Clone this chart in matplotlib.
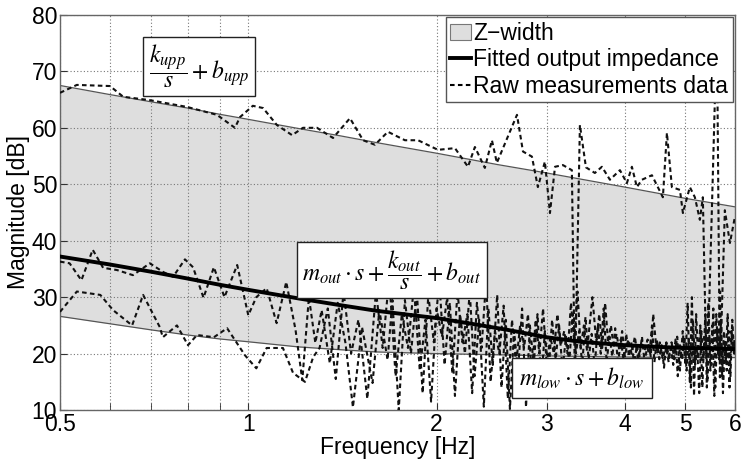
import matplotlib
matplotlib.use("Agg")
import matplotlib.pyplot as plt
from matplotlib.patches import Patch
from matplotlib.lines import Line2D

plt.rcParams['font.family'] = ['Liberation Sans', 'DejaVu Sans']
plt.rcParams['mathtext.fontset'] = 'stix'

# ---- data ----
xticks = [0.5, 1, 2, 3, 4, 5, 6]
xtick_labels = ['0.5', '1', '2', '3', '4', '5', '6']
minor_ticks = [0.6, 0.7, 0.8, 0.9]
yticks = [10, 20, 30, 40, 50, 60, 70, 80]

upper_f = [0.5, 0.6, 0.7, 0.8, 0.9, 1.0, 1.2, 1.4, 1.6, 2.0, 2.5, 3.0, 4.0, 5.0, 6.0]
upper_db = [67.5, 65.9, 64.6, 63.5, 62.4, 61.5, 59.9, 58.6, 57.4, 55.5, 53.5, 52.0, 49.5, 47.5, 46.0]

lower_f = [0.5, 0.6, 0.7, 0.8, 0.9, 1.0, 1.2, 1.4, 1.6, 2.0, 2.5, 3.0, 4.0, 5.0, 6.0]
lower_db = [26.6, 25.3, 24.2, 23.3, 22.6, 22.1, 21.2, 20.7, 20.3, 20.0, 19.8, 19.6, 19.4, 19.3, 19.3]

fit_f = [0.5, 0.6, 0.7, 0.8, 0.9, 1.0, 1.2, 1.4, 1.6, 1.8, 2.0, 2.3, 2.6, 3.0, 3.4, 4.0, 4.5, 5.0, 5.5, 6.0]
fit_db = [37.2, 35.8, 34.5, 33.3, 32.2, 31.3, 29.8, 28.6, 27.6, 26.9, 26.3, 25.2, 24.2, 22.9, 22.1, 21.5, 21.2, 21.0, 20.9, 20.8]

raw_a_f = [0.500, 0.532, 0.601, 0.631, 0.696, 0.798, 0.891, 0.952, 0.970, 1.017, 1.056, 1.111,
           1.175, 1.223, 1.288, 1.366, 1.454, 1.526, 1.594, 1.672, 1.780, 1.868, 2.010, 2.140,
           2.245, 2.303, 2.389, 2.452, 2.497, 2.689, 2.749, 2.841, 2.904, 2.980, 3.036, 3.093,
           3.184, 3.291, 3.328, 3.390, 3.466, 3.582, 3.676, 3.786, 3.928, 4.030, 4.105, 4.181,
           4.259, 4.419, 4.601, 4.670, 4.756, 4.899, 4.953, 5.081, 5.176, 5.272, 5.330, 5.409,
           5.510, 5.613, 5.675, 5.780, 5.889, 5.997]
raw_a_db = [66.2, 67.6, 67.4, 65.5, 64.9, 63.7, 62.3, 60.0, 61.9, 63.9, 63.5, 60.5,
            58.7, 60.0, 60.0, 58.2, 61.7, 57.8, 57.0, 59.3, 57.8, 57.8, 56.1, 56.4,
            53.1, 56.6, 52.9, 57.8, 53.8, 62.3, 55.8, 54.9, 49.5, 54.0, 44.9, 53.1,
            53.4, 52.5, 15.0, 60.5, 53.0, 52.0, 53.1, 50.8, 52.5, 50.2, 53.1, 49.5,
            50.8, 51.6, 47.7, 59.1, 49.5, 49.0, 44.9, 49.5, 47.7, 43.7, 47.7, 14.0,
            45.4, 78.0, 15.8, 45.4, 39.6, 44.2]

raw_b_f = [0.500, 0.518, 0.541, 0.564, 0.586, 0.617, 0.654, 0.696, 0.730, 0.758, 0.792, 0.816,
           0.848, 0.881, 0.916, 0.960, 1.000, 1.03, 1.07, 1.11, 1.15, 1.19,
           1.22, 1.25, 1.28, 1.31, 1.35, 1.39, 1.43, 1.47, 1.52, 1.58, 1.62, 1.67,
           1.70, 1.74, 1.78, 1.82, 1.86, 1.90, 1.94, 1.98, 2.02, 2.06, 2.10, 2.14,
           2.18, 2.22, 2.26, 2.30, 2.34, 2.38, 2.42, 2.46, 2.50, 2.54, 2.58, 2.62,
           2.66, 2.70, 2.74, 2.78, 2.82, 2.86, 2.90, 2.94, 2.98, 3.02, 3.06, 3.10,
           3.14, 3.18, 3.22, 3.26, 3.30, 3.34, 3.38, 3.42, 3.46, 3.50, 3.54, 3.58,
           3.62, 3.66, 3.70, 3.74, 3.78, 3.82, 3.86, 3.90, 3.94, 3.98, 4.02, 4.06,
           4.10, 4.14, 4.18, 4.22, 4.26, 4.30, 4.34, 4.38, 4.42, 4.46, 4.50, 4.54,
           4.58, 4.62, 4.66, 4.70, 4.74, 4.78, 4.82, 4.86, 4.90, 4.94, 4.98, 5.02,
           5.06, 5.10, 5.14, 5.18, 5.22, 5.26, 5.30, 5.34, 5.38, 5.42, 5.46, 5.50,
           5.54, 5.58, 5.62, 5.66, 5.70, 5.74, 5.78, 5.82, 5.86, 5.90, 5.94, 5.98, 6.00]
raw_b_db = [36.3, 36.0, 33.0, 38.4, 35.2, 34.8, 33.9, 36.0, 34.5, 33.6, 36.7, 35.3,
            29.9, 35.3, 30.0, 35.7, 26.8, 30.0, 31.6, 25.4, 32.7, 24.2,
            15.3, 30.0, 21.9, 27.7, 18.3, 29.0, 21.9, 10.5, 24.7, 14.8, 27.7, 18.9,
            29.5, 10.0, 29.5, 20.0, 31.0, 13.0, 30.4, 22.0, 33.0, 18.0, 29.0, 12.5,
            27.0, 20.0, 31.0, 16.0, 26.0, 10.6, 28.0, 18.0, 30.4, 14.0, 26.0, 10.2,
            24.0, 17.0, 28.0, 10.5, 25.0, 18.0, 27.0, 15.0, 24.0, 16.5, 26.0, 19.0,
            25.0, 17.0, 23.0, 18.5, 27.0, 20.0, 24.0, 18.0, 26.5, 19.0, 23.5, 17.5,
            25.0, 20.0, 28.0, 18.5, 23.0, 19.5, 24.5, 18.0, 22.5, 19.0, 23.5, 19.5,
            22.0, 18.0, 21.5, 19.5, 23.0, 18.5, 21.0, 20.0, 25.0, 18.5, 22.5, 19.0,
            21.5, 17.5, 22.0, 19.5, 21.0, 18.0, 22.5, 16.0, 21.5, 19.0, 23.0, 17.0,
            22.5, 14.0, 26.0, 18.0, 21.0, 13.0, 24.0, 19.0, 27.0, 15.0, 23.0, 18.0,
            28.0, 14.0, 24.0, 19.0, 26.0, 13.0, 22.0, 17.0, 24.0, 16.0, 26.0, 20.0, 22.0]

raw_c_f = [0.500, 0.532, 0.580, 0.608, 0.652, 0.679, 0.722, 0.730, 0.769, 0.801, 0.828, 0.881,
           0.925, 0.988, 1.03, 1.07, 1.136, 1.179, 1.232, 1.27,
           1.30, 1.34, 1.38, 1.42, 1.46, 1.50, 1.55, 1.60, 1.64, 1.68, 1.72, 1.76,
           1.80, 1.84, 1.88, 1.92, 1.96, 2.00, 2.04, 2.08, 2.12, 2.16, 2.20, 2.24,
           2.28, 2.32, 2.36, 2.40, 2.44, 2.48, 2.52, 2.56, 2.60, 2.64, 2.68, 2.72,
           2.76, 2.80, 2.84, 2.88, 2.92, 2.96, 3.00, 3.04, 3.08, 3.12, 3.16, 3.20,
           3.24, 3.28, 3.32, 3.36, 3.40, 3.44, 3.48, 3.55, 3.60, 3.64, 3.68, 3.72,
           3.76, 3.80, 3.84, 3.88, 3.92, 3.96, 4.00, 4.05, 4.10, 4.15, 4.20, 4.25,
           4.30, 4.35, 4.40, 4.44, 4.50, 4.55, 4.60, 4.65, 4.70, 4.75, 4.80, 4.85,
           4.90, 4.95, 5.00, 5.04, 5.08, 5.12, 5.16, 5.20, 5.24, 5.28, 5.32, 5.36,
           5.40, 5.44, 5.48, 5.52, 5.56, 5.60, 5.64, 5.68, 5.72, 5.76, 5.80, 5.84,
           5.88, 5.92, 5.96, 6.00]
raw_c_db = [27.4, 31.0, 30.4, 27.7, 25.0, 30.4, 24.7, 22.9, 25.0, 21.5, 23.3, 22.9,
            24.5, 19.7, 17.4, 21.0, 21.0, 16.6, 15.0, 19.4,
            21.0, 28.0, 15.5, 31.0, 20.0, 26.0, 12.0, 31.0, 21.0, 33.5, 16.0, 27.0,
            21.0, 32.0, 17.0, 26.0, 11.5, 28.0, 23.0, 30.0, 16.5, 31.0, 22.0, 27.0,
            13.0, 29.0, 21.0, 33.0, 15.0, 24.0, 20.0, 28.5, 12.0, 26.0, 18.0, 25.0,
            21.0, 27.0, 16.0, 26.0, 20.0, 28.0, 18.0, 23.0, 20.0, 27.0, 21.5, 24.0,
            20.0, 29.0, 22.0, 31.0, 21.0, 25.0, 20.5, 30.0, 22.0, 27.0, 21.0, 29.0,
            22.0, 25.0, 21.0, 23.5, 20.5, 24.0, 19.5, 22.5, 20.0, 23.0, 19.0, 22.0,
            20.5, 22.5, 19.5, 27.0, 20.0, 22.0, 19.0, 21.5, 18.5, 22.0, 19.0, 23.0,
            17.0, 24.0, 18.0, 29.0, 15.0, 30.0, 12.5, 27.0, 19.0, 25.0, 14.0, 23.0,
            20.0, 29.0, 17.0, 25.0, 12.5, 27.0, 20.0, 31.0, 16.0, 24.0, 19.0, 27.0,
            14.0, 24.0, 21.0, 23.0]

# ---- figure ----
FS = 16.5
fig = plt.figure(figsize=(7.5, 4.66), dpi=100)
ax = fig.add_axes([0.08, 0.12, 0.9, 0.848])
ax.set_xscale('log')

ax.fill_between(lower_f, lower_db, upper_db, color='#dedede', lw=0, zorder=1)
ax.plot(upper_f, upper_db, color='#555555', lw=0.9, zorder=2)
ax.plot(lower_f, lower_db, color='#555555', lw=0.9, zorder=2)

dash = (0, (2.2, 1.6))
for fx, vy in [(raw_a_f, raw_a_db), (raw_b_f, raw_b_db), (raw_c_f, raw_c_db)]:
    ax.plot(fx, vy, color='#111111', lw=1.5, linestyle=dash, zorder=3)
ax.plot(fit_f, fit_db, color='black', lw=2.8, zorder=4)

ax.set_xlim(0.5, 6)
ax.set_ylim(10, 80)
ax.set_xticks(xticks)
ax.set_xticklabels(xtick_labels)
ax.set_xticks(minor_ticks, minor=True)
ax.set_xticklabels([], minor=True)
ax.set_yticks(yticks)
ax.tick_params(axis='both', which='both', direction='in', labelsize=FS, length=5, colors='#333333',
               labelcolor='black', pad=2)
ax.grid(True, which='both', linestyle=(0, (1, 2)), color='#777777', lw=0.8)
for s in ax.spines.values():
    s.set_color('#666666')
    s.set_linewidth(1.0)

ax.set_xlabel('Frequency [Hz]', fontsize=FS, labelpad=0)
ax.set_ylabel('Magnitude [dB]', fontsize=FS, labelpad=1)

bbox = dict(boxstyle='square,pad=0.25', facecolor='white', edgecolor='#222222', lw=1.0)
ax.text(0.834, 70.8, r'$\dfrac{k_{upp}}{s}+b_{upp}$', fontsize=17, ha='center', va='center',
        bbox=bbox, zorder=6)
ax.text(1.697, 34.8, r'$m_{out}\cdot s+\dfrac{k_{out}}{s}+b_{out}$', fontsize=17, ha='center',
        va='center', bbox=bbox, zorder=6)
ax.text(3.415, 15.7, r'$m_{low}\cdot s+b_{low}$', fontsize=17, ha='center', va='center',
        bbox=dict(boxstyle='square,pad=0.32', facecolor='white', edgecolor='#222222', lw=1.0),
        zorder=6)

handles = [Patch(facecolor='#dedede', edgecolor='#777777', lw=0.8),
           Line2D([], [], color='black', lw=2.8),
           Line2D([], [], color='black', lw=1.5, linestyle=dash)]
leg = ax.legend(handles, ['Z\u2212width', 'Fitted output impedance', 'Raw measurements data'],
                loc='upper right', fontsize=FS, frameon=True, fancybox=False, framealpha=1,
                edgecolor='#555555', borderpad=0.2, labelspacing=0.15, handlelength=0.9,
                handletextpad=0.1, borderaxespad=0.1)
leg.get_frame().set_linewidth(1.0)
leg.set_zorder(7)

fig.savefig('out.png', dpi=100)
